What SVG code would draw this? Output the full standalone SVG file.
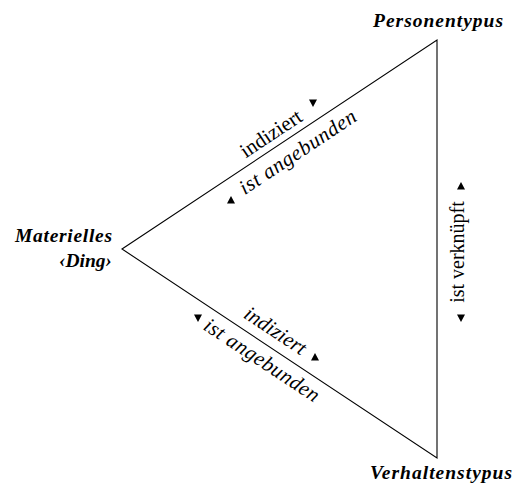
<svg xmlns="http://www.w3.org/2000/svg" xmlns:xlink="http://www.w3.org/1999/xlink" width="523" height="487" viewBox="0 0 523 487">
<style>
.node{font-family:"Liberation Serif","Times New Roman",serif;font-weight:bold;font-style:italic;font-size:19.5px;fill:#000}
.lbl{font-family:"Liberation Serif","Times New Roman",serif;font-size:21px;fill:#000}
.it{font-style:italic}
.edge{fill:none;stroke:#000;stroke-width:1.1}
</style>
<defs>
<path id="up" d="M-4,3.5 L4,3.5 L0,-4 Z" fill="#000"/>
<path id="down" d="M-4,-3.5 L4,-3.5 L0,4 Z" fill="#000"/>
</defs>
<g id="connectors">
<path class="edge" d="M122,249 L437,40 L437,458 Z"/>
</g>
<g id="node-personentypus">
<text class="node" x="438" y="27" text-anchor="middle" textLength="130">Personentypus</text>
</g>
<g id="node-materielles-ding">
<text class="node" x="112" y="242" text-anchor="end" textLength="97">Materielles</text>
<text class="node" x="112" y="267" text-anchor="end">‹Ding›</text>
</g>
<g id="node-verhaltenstypus">
<text class="node" x="441" y="479" text-anchor="middle" textLength="142">Verhaltenstypus</text>
</g>
<g id="label-upper">
<g transform="translate(122,249) rotate(-33.56)">
<text class="lbl" x="188" y="-7" text-anchor="middle">indiziert</text>
<text class="lbl it" x="200" y="23" text-anchor="middle" textLength="136">ist angebunden</text>
</g>
<use xlink:href="#down" x="313" y="103"/>
<use xlink:href="#up" x="231" y="200"/>
</g>
<g id="label-lower">
<g transform="translate(122,249) rotate(33.56)">
<text class="lbl it" x="173" y="-10" text-anchor="middle">indiziert</text>
<text class="lbl it" x="178" y="22" text-anchor="middle" textLength="134">ist angebunden</text>
</g>
<use xlink:href="#up" x="315" y="357"/>
<use xlink:href="#down" x="198" y="318"/>
</g>
<g id="label-right">
<text class="lbl" style="font-size:20px" transform="translate(464,252) rotate(-90)" text-anchor="middle">ist verknüpft</text>
<use xlink:href="#up" x="461" y="186"/>
<use xlink:href="#down" x="461" y="318"/>
</g>
</svg>
